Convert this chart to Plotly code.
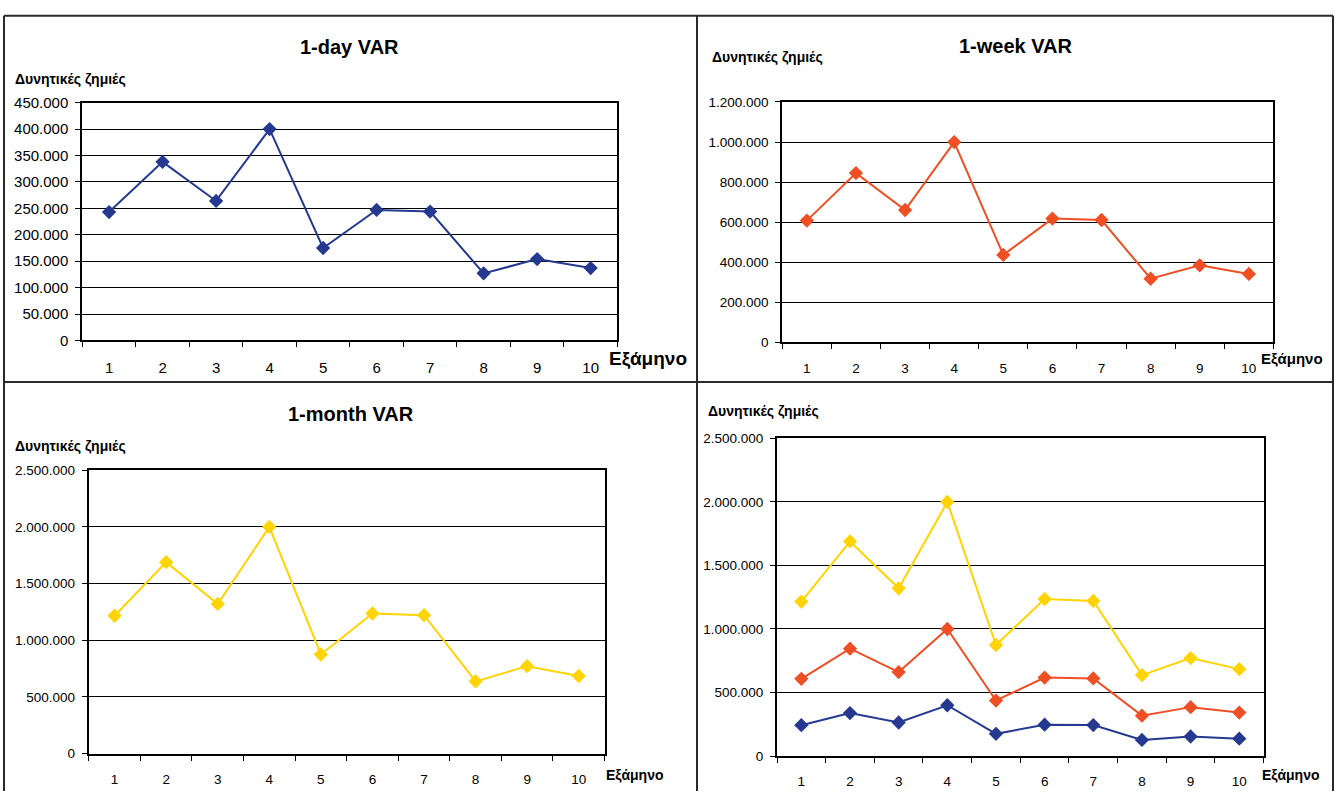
import plotly.graph_objects as go

# Semesters and Value-at-Risk estimates (potential losses)
semesters = [1, 2, 3, 4, 5, 6, 7, 8, 9, 10]
var_1day = [243000, 338000, 264000, 400000, 175000, 247000, 244000, 127000, 154000, 137000]
var_1week = [608000, 845000, 661000, 1000000, 437000, 618000, 611000, 318000, 385000, 342000]
var_1month = [1216000, 1689000, 1320000, 2000000, 874000, 1236000, 1221000, 637000, 771000, 684000]

titles = ["1-day VAR", "1-week VAR", "1-month VAR"]
y_label = "Δυνητικές ζημιές"
x_label = "Εξάμηνο"

COL_DAY = "#24398f"
COL_WEEK = "#f04e24"
COL_MONTH = "#ffd400"

W, H = 1335, 799
FONT = "Liberation Sans, Arial, sans-serif"


def px(x):
    return x / W


def py(y):
    return 1 - y / H


fig = go.Figure()

# panel layout: (xaxis id, yaxis id, x pixel range, y pixel range, y max, y step, tick font size)
panels = [
    ("x", "y", (82.3, 617.4), (95.7, 338.7), 450000, 50000, 15),
    ("x2", "y2", (782.3, 1273.4), (95.0, 340.7), 1200000, 200000, 13.5),
    ("x3", "y3", (88.8, 604.5), (471.3, 760.7), 2500000, 500000, 13.5),
    ("x4", "y4", (777.0, 1263.6), (438.7, 763.3), 2500000, 500000, 13.5),
]


def add_series(xa, ya, values, color):
    fig.add_trace(go.Scatter(
        x=semesters, y=values, xaxis=xa, yaxis=ya, mode="lines+markers",
        line=dict(color=color, width=2),
        marker=dict(symbol="diamond", size=11, color=color),
        showlegend=False, hoverinfo="x+y",
    ))


add_series("x", "y", var_1day, COL_DAY)
add_series("x2", "y2", var_1week, COL_WEEK)
add_series("x3", "y3", var_1month, COL_MONTH)
add_series("x4", "y4", var_1month, COL_MONTH)
add_series("x4", "y4", var_1week, COL_WEEK)
add_series("x4", "y4", var_1day, COL_DAY)

layout = dict(
    width=W, height=H, autosize=False,
    margin=dict(l=0, r=0, t=0, b=0),
    paper_bgcolor="white", plot_bgcolor="white",
    separators=",.",
    font=dict(family=FONT, color="black"),
)

for xa, ya, (x0, x1), (y0, y1), ymax, ystep, fs in panels:
    xkey = "xaxis" + xa[1:]
    ykey = "yaxis" + ya[1:]
    layout[xkey] = dict(
        domain=[px(x0), px(x1)], anchor=ya, range=[0.5, 10.5],
        tickmode="array", tickvals=semesters, ticktext=[str(s) for s in semesters],
        ticks="outside", ticklen=5, tickcolor="rgba(0,0,0,0)",
        ticklabelstandoff=8 if fs == 15 else 7,
        minor=dict(tickmode="linear", tick0=0.5, dtick=1, ticks="outside",
                   ticklen=5, tickcolor="black", tickwidth=1, showgrid=False),
        showgrid=False, zeroline=False,
        showline=True, linecolor="black", linewidth=2, mirror=True,
        tickfont=dict(size=fs, family=FONT, color="black"),
        fixedrange=True,
    )
    layout[ykey] = dict(
        domain=[py(y1), py(y0)], anchor=xa, range=[0, ymax],
        tickmode="linear", tick0=0, dtick=ystep, tickformat=",d",
        ticks="outside", ticklen=5, tickcolor="black", tickwidth=1,
        ticklabelstandoff=4,
        showgrid=True, gridcolor="black", gridwidth=1, zeroline=False,
        showline=True, linecolor="black", linewidth=2, mirror=True,
        tickfont=dict(size=fs, family=FONT, color="black"),
        fixedrange=True,
    )

annotations = []


def text(x, y, s, size, anchor="left", bold=True):
    annotations.append(dict(
        xref="paper", yref="paper", x=px(x), y=py(y), text=f"<b>{s}</b>" if bold else s,
        showarrow=False, xanchor=anchor, yanchor="middle",
        font=dict(family=FONT, size=size, color="black"),
    ))


# chart titles
text(350, 39, titles[0], 20, anchor="center")
text(1016, 38, titles[1], 20, anchor="center")
text(351, 414, titles[2], 20, anchor="center")

# value-axis captions
text(13, 72, y_label, 14)
text(710, 49, y_label, 14)
text(13, 446, y_label, 14)
text(706, 411, y_label, 14)

# category-axis captions
text(607, 358, x_label, 19)
text(1259, 357, x_label, 15)
text(604, 783, x_label, 14)
text(1260, 783, x_label, 14)

layout["annotations"] = annotations

# frame around the four charts
frame = dict(color="#2a2a2a", width=2)
layout["shapes"] = [
    dict(type="line", xref="paper", yref="paper", x0=px(4), x1=px(4), y0=py(7), y1=py(799), line=frame),
    dict(type="line", xref="paper", yref="paper", x0=px(1333), x1=px(1333), y0=py(7), y1=py(799), line=frame),
    dict(type="line", xref="paper", yref="paper", x0=px(4), x1=px(1333), y0=py(7), y1=py(7), line=frame),
    dict(type="line", xref="paper", yref="paper", x0=px(697), x1=px(697), y0=py(7), y1=py(799), line=frame),
    dict(type="line", xref="paper", yref="paper", x0=px(4), x1=px(1333), y0=py(381), y1=py(381), line=frame),
]

fig.update_layout(**layout)

# the page body carries no margin so the figure sits at the window origin
fig.write_html(
    "out.html",
    post_script="document.body.style.margin='0';document.body.style.padding='0';",
)
